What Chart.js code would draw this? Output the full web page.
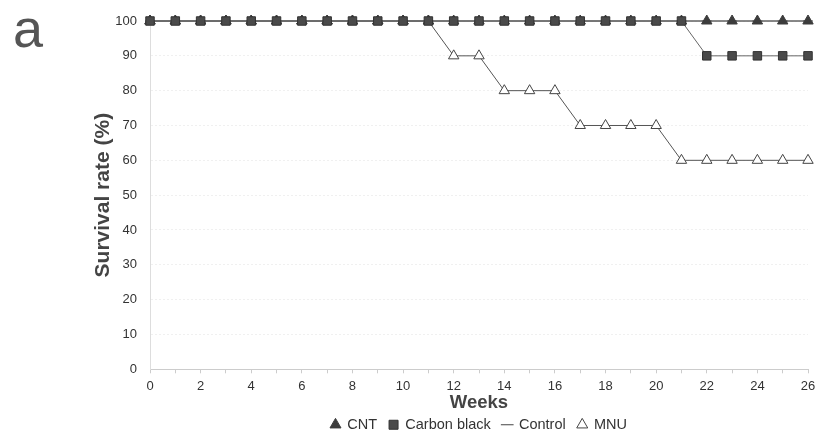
<!DOCTYPE html>
<html>
<head>
<meta charset="utf-8">
<script src="https://cdn.jsdelivr.net/npm/chart.js@4.4.1/dist/chart.umd.min.js"></script>
<style>
  html, body { margin: 0; padding: 0; background: #fff; }
  #wrap { position: relative; width: 823px; height: 439px; }
  #panel { position: absolute; left: 13px; top: -3px; line-height: 1; font: 54px "Liberation Sans", Arial, sans-serif; color: #555; }
</style>
</head>
<body>
<div id="wrap">
  <canvas id="survivalChart" width="823" height="439"></canvas>
  <div id="panel">a</div>
</div>
<script>
const weeks = [0, 1, 2, 3, 4, 5, 6, 7, 8, 9, 10, 11, 12, 13, 14, 15, 16, 17, 18, 19, 20, 21, 22, 23, 24, 25, 26];
const cnt = [100, 100, 100, 100, 100, 100, 100, 100, 100, 100, 100, 100, 100, 100, 100, 100, 100, 100, 100, 100, 100, 100, 100, 100, 100, 100, 100];
const carbonBlack = [100, 100, 100, 100, 100, 100, 100, 100, 100, 100, 100, 100, 100, 100, 100, 100, 100, 100, 100, 100, 100, 100, 90, 90, 90, 90, 90];
const control = [100, 100, 100, 100, 100, 100, 100, 100, 100, 100, 100, 100, 100, 100, 100, 100, 100, 100, 100, 100, 100, 100, 100, 100, 100, 100, 100];
const mnu = [100, 100, 100, 100, 100, 100, 100, 100, 100, 100, 100, 100, 90, 90, 80, 80, 80, 70, 70, 70, 70, 60, 60, 60, 60, 60, 60];

const font = "'Liberation Sans', Arial, sans-serif";

new Chart(document.getElementById('survivalChart'), {
    type: 'line',
    data: {
        labels: weeks,
        datasets: [
            {
                label: 'CNT',
                data: cnt,
                order: 1,
                clip: false,
                borderColor: '#666',
                borderWidth: 1,
                pointStyle: 'triangle',
                pointRadius: 6,
                pointBackgroundColor: '#3c3c3c',
                pointBorderColor: '#3c3c3c',
                pointBorderWidth: 1
            },
            {
                label: 'Carbon black',
                data: carbonBlack,
                order: 0,
                clip: false,
                borderColor: '#666',
                borderWidth: 1,
                pointStyle: 'rect',
                pointRadius: 6,
                pointBackgroundColor: '#4a4a4a',
                pointBorderColor: '#333',
                pointBorderWidth: 1
            },
            {
                label: 'Control',
                data: control,
                order: 3,
                clip: false,
                borderColor: '#555',
                borderWidth: 1,
                pointStyle: 'line',
                pointRadius: 5,
                pointBorderColor: '#444',
                pointBorderWidth: 1
            },
            {
                label: 'MNU',
                data: mnu,
                order: 2,
                clip: false,
                borderColor: '#555',
                borderWidth: 1,
                pointStyle: 'triangle',
                pointRadius: 6,
                pointBackgroundColor: '#fff',
                pointBorderColor: '#444',
                pointBorderWidth: 1
            }
        ]
    },
    options: {
        responsive: false,
        animation: false,
        layout: { padding: { left: 90.9, right: 15, top: 21, bottom: -3 } },
        scales: {
            x: {
                offset: false,
                grid: { display: true, drawOnChartArea: false, drawTicks: true, tickLength: 4, color: '#ccc' },
                border: { color: '#ccc', dash: [2, 2] },
                ticks: {
                    autoSkip: false,
                    maxRotation: 0,
                    padding: 5.4,
                    color: '#333',
                    font: { family: font, size: 13 },
                    callback: function (value, index) {
                        return weeks[index] % 2 === 0 ? weeks[index] : '';
                    }
                },
                title: {
                    display: true,
                    text: 'Weeks',
                    color: '#444',
                    padding: { top: -7.4, bottom: -9 },
                    font: { family: font, size: 18.5, weight: 'bold' }
                }
            },
            y: {
                min: 0,
                max: 100,
                afterFit: (scale) => { scale.width = 59.1; },
                ticks: {
                    stepSize: 10,
                    color: '#333',
                    padding: 13,
                    font: { family: font, size: 13 }
                },
                grid: { color: '#f0f0f0', drawTicks: false },
                border: { color: '#ddd', dash: [2, 2] },
                title: {
                    display: true,
                    text: 'Survival rate (%)',
                    color: '#444',
                    padding: { top: 0, bottom: 0 },
                    font: { family: font, size: 21, weight: 'bold' }
                }
            }
        },
        plugins: {
            legend: {
                position: 'bottom',
                fullSize: false,
                labels: {
                    usePointStyle: true,
                    boxWidth: 9,
                    boxHeight: 9,
                    padding: 12,
                    color: '#333',
                    font: { family: font, size: 14.5 },
                    sort: (a, b) => a.datasetIndex - b.datasetIndex
                }
            },
            tooltip: { enabled: false }
        }
    }
});
</script>
</body>
</html>
